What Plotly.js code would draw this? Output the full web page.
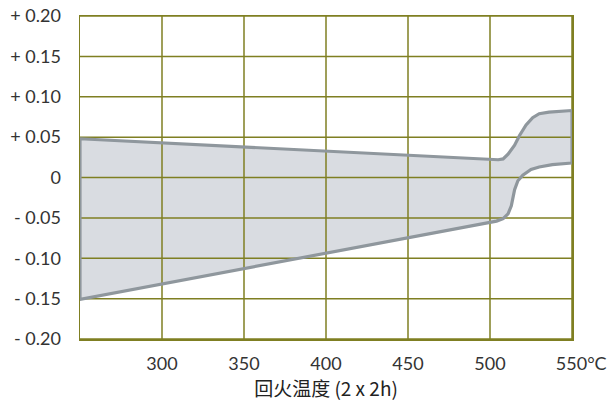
<!DOCTYPE html>
<html>
<head>
<meta charset="utf-8">
<script src="https://cdn.plot.ly/plotly-3.0.1.min.js"></script>
<style>html,body{margin:0;padding:0;background:#fff;}</style>
</head>
<body>
<div id="chart" style="width:610px;height:405px;"></div>
<script>
// Upper boundary of the dimensional-change band (temperature °C, change %)
const upperTemp = [250, 505, 508, 511, 515, 518, 522, 526, 530, 536, 550];
const upperVal  = [0.048, 0.022, 0.023, 0.029, 0.040, 0.052, 0.065, 0.074, 0.079, 0.081, 0.083];
// Lower boundary
const lowerTemp = [250, 504, 508, 511, 513, 515, 517, 520, 525, 530, 538, 550];
const lowerVal  = [-0.151, -0.054, -0.051, -0.045, -0.035, -0.015, -0.004, 0.003, 0.010, 0.013, 0.016, 0.018];

const xTickVals = [300, 350, 400, 450, 500, 550];
const xTickText = ['300', '350', '400', '450', '500', '\u00a0\u00a0\u00a0\u00a0550°C'];
const yTickVals = [0.20, 0.15, 0.10, 0.05, 0, -0.05, -0.10, -0.15, -0.20];
const yTickText = ['+ 0.20', '+ 0.15', '+ 0.10', '+ 0.05', '0', '- 0.05', '- 0.10', '- 0.15', '- 0.20'];
const xTitle = '回火温度 (2 x 2h)';
const xRange = [250, 550];
const yRange = [-0.20, 0.20];

// closed polygon: upper left->right, then lower right->left
const polyX = upperTemp.concat(lowerTemp.slice().reverse(), [upperTemp[0]]);
const polyY = upperVal.concat(lowerVal.slice().reverse(), [upperVal[0]]);

const grid = '#7f7f22';
const fillTrace = {
  x: polyX, y: polyY, mode: 'none', fill: 'toself',
  fillcolor: '#d9dce1', hoverinfo: 'skip'
};
// grid lines drawn as traces so they sit above the fill but below the outline
const gx = [], gy = [];
xTickVals.forEach(v => { gx.push(v, v, null); gy.push(yRange[0], yRange[1], null); });
yTickVals.forEach(v => { gx.push(xRange[0], xRange[1], null); gy.push(v, v, null); });
const gridTrace = {
  x: gx, y: gy, mode: 'lines', line: {color: grid, width: 1.5},
  hoverinfo: 'skip', cliponaxis: false
};
const outlineTrace = {
  x: polyX, y: polyY, mode: 'lines',
  line: {color: '#8f979d', width: 3.2, shape: 'linear'},
  hoverinfo: 'skip'
};

const layout = {
  width: 610, height: 405,
  margin: {l: 80, r: 38, t: 16, b: 66},
  paper_bgcolor: '#fff', plot_bgcolor: '#fff',
  showlegend: false,
  font: {family: 'Lato, "Noto Sans", sans-serif', size: 18, color: '#333'},
  xaxis: {
    range: xRange, tickvals: xTickVals, ticktext: xTickText,
    showgrid: false,
    showline: true, linecolor: grid, linewidth: 1.5, mirror: true,
    zeroline: false, ticks: '', ticklabelstandoff: 8,
    title: {text: xTitle, font: {family: '"Noto Sans CJK SC", Lato, sans-serif', size: 19, color: '#222'}, standoff: 4}
  },
  yaxis: {
    range: yRange, tickvals: yTickVals, ticktext: yTickText,
    showgrid: false,
    showline: true, linecolor: grid, linewidth: 1.5, mirror: true,
    zeroline: false, ticks: '', ticklabelstandoff: 14
  }
};

Plotly.newPlot('chart', [fillTrace, gridTrace, outlineTrace], layout, {staticPlot: true, displayModeBar: false});
</script>
</body>
</html>
